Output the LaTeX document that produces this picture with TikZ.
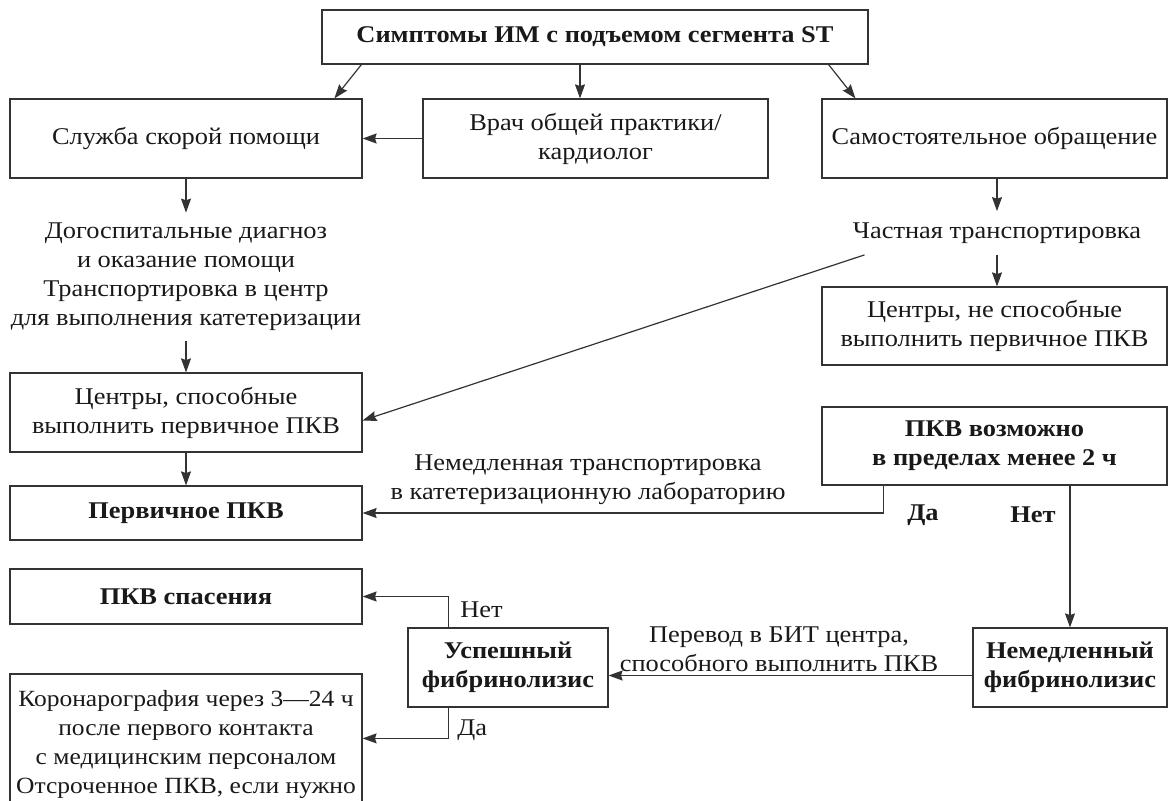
\documentclass[tikz,border=0pt]{standalone}
\usepackage{fontspec}
\setmainfont{Liberation Serif}[FakeStretch=1.1]
\usetikzlibrary{arrows.meta,calc}

\begin{document}
\begin{tikzpicture}[x=0.5pt,y=-0.5pt,
  every node/.style={font=\fontsize{12pt}{14.5pt}\selectfont, text=black!90, align=center},
  bf/.style={font=\fontsize{12pt}{14.5pt}\selectfont\bfseries},
  box/.style={draw=black!80, line width=0.6pt, inner sep=0pt},
  lbl/.style={inner sep=0pt},
  arr/.style={draw=black!80, line width=0.6pt, -{Stealth[length=7pt,width=5pt,inset=0.8pt]}}]
\useasboundingbox (0,0) rectangle (1169,800);
% top row
\node[box,bf,minimum width=273pt,minimum height=27pt] (sympt) at (595,37) {Симптомы ИМ с подъемом сегмента ST};
\node[box,minimum width=176pt,minimum height=39.5pt] (amb) at (186,138.5) {Служба скорой помощи};
\node[box,minimum width=172.5pt,minimum height=39.5pt] (gp) at (595.5,138.5) {Врач общей практики/\\кардиолог};
\node[box,minimum width=172.5pt,minimum height=39.5pt] (self) at (994.5,138.5) {Самостоятельное обращение};
% left column
\node[lbl,minimum height=64pt] (prehosp) at (186,277) {Догоспитальные диагноз\\и оказание помощи\\Транспортировка в центр\\для выполнения катетеризации};
\node[box,minimum width=176pt,minimum height=39.5pt] (cap) at (186,412.5) {Центры, способные\\выполнить первичное ПКВ};
\node[box,bf,minimum width=176pt,minimum height=27pt] (prim) at (186,513) {Первичное ПКВ};
\node[box,bf,minimum width=176pt,minimum height=27.5pt] (rescue) at (186,596.5) {ПКВ спасения};
\node[box,minimum width=176pt,minimum height=70pt,font=\fontsize{11.6pt}{14.5pt}\selectfont] (coro) at (186,744) {Коронарография через 3—24 ч\\после первого контакта\\с медицинским персоналом\\Отсроченное ПКВ, если нужно};
% right column
\node[lbl,minimum height=21.5pt] (priv) at (997,233) {Частная транспортировка};
\node[box,minimum width=172.5pt,minimum height=39pt] (noncap) at (994.5,326) {Центры, не способные\\выполнить первичное ПКВ};
\node[box,bf,minimum width=172.5pt,minimum height=39pt] (pcipos) at (994.5,446) {ПКВ возможно\\в пределах менее 2 ч};
\node[box,bf,minimum width=97pt,minimum height=39.5pt] (immfib) at (1070,667.5) {Немедленный\\фибринолизис};
\node[box,bf,minimum width=100pt,minimum height=39.5pt] (succ) at (508,667.5) {Успешный\\фибринолизис};
% labels
\node[lbl] (transp) at (588,480) {Немедленная транспортировка\\в катетеризационную лабораторию};
\node[lbl] (transfer) at (779,649) {Перевод в БИТ центра,\\способного выполнить ПКВ};
\node[lbl,bf] (yes1) at (923,515) {Да};
\node[lbl,bf] (no1) at (1033,515) {Нет};
\node[lbl,anchor=west] (no2) at (460,610) {Нет};
\node[lbl,anchor=west] (yes2) at (457,730) {Да};
% connectors
\draw[arr] ($(sympt.south west)+(40,0)$) -- ($(amb.north west)+(325,0)$);
\draw[arr] ($(sympt.south)+(-15,0)$) -- ($(gp.north)+(-15.5,0)$);
\draw[arr] ($(sympt.south east)+(-40,0)$) -- ($(self.north west)+(34,0)$);
\draw[arr] (gp) -- (amb);
\draw[arr] (amb) -- (prehosp);
\draw[arr] (prehosp) -- (cap);
\draw[arr] (self.south -| priv) -- (priv);
\draw[arr] (priv) -- (priv |- noncap.north);
\draw[arr] ($(priv.south west)+(12,0)$) -- ($(cap.east)+(0,8)$);
\draw[arr] (cap) -- (prim);
\draw[arr] ($(pcipos.south west)+(62,0)$) |- (prim.east);
\draw[arr] (pcipos.south -| immfib) -- (immfib);
\draw[arr] ($(immfib.west)+(0,8)$) -- ($(succ.east)+(0,8)$);
\draw[arr] ($(succ.north west)+(41,0)$) |- (rescue.east);
\draw[arr] ($(succ.south west)+(41,0)$) |- ($(coro.north east)+(0,65)$);
\end{tikzpicture}
\end{document}
